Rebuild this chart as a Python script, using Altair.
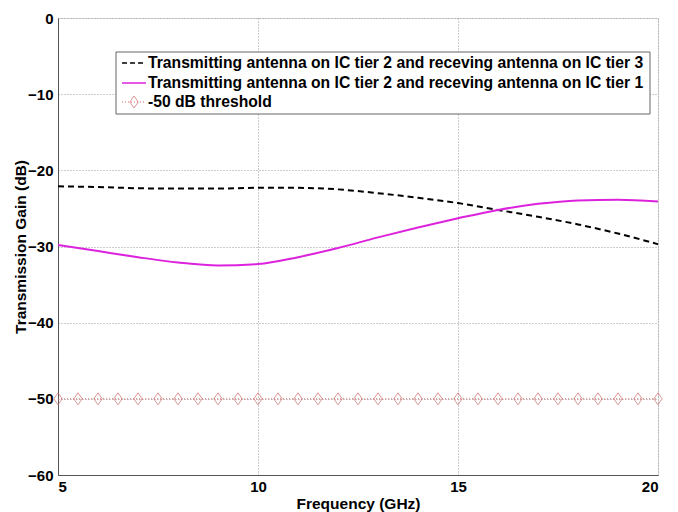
import altair as alt
import pandas as pd

freq = [5, 6, 7, 8, 9, 10, 11, 12, 13, 14, 15, 16, 17, 18, 19, 20]
tier3 = [-22.1, -22.2, -22.35, -22.4, -22.4, -22.3, -22.3, -22.5, -23.0, -23.6, -24.3, -25.2, -26.1, -27.1, -28.3, -29.7]
tier1 = [-29.8, -30.6, -31.4, -32.1, -32.5, -32.3, -31.4, -30.2, -28.8, -27.5, -26.3, -25.2, -24.4, -23.95, -23.85, -24.1]
thr_freq = [5 + 0.5 * i for i in range(31)]
thr_val = [-50] * 31

labels = [
    "Transmitting antenna on IC tier 2 and receving antenna on IC tier 3",
    "Transmitting antenna on IC tier 2 and receving antenna on IC tier 1",
    "-50 dB threshold",
]
x_ticks = [5, 10, 15, 20]
y_ticks = [-60, -50, -40, -30, -20, -10, 0]

FONT = "Liberation Sans"
W, H = 600, 457
THR_COLOR = "#d06a6a"
DIAMOND = "M0,-1L0.7,0L0,1L-0.7,0Z"

df3 = pd.DataFrame({"f": freq, "g": tier3})
df1 = pd.DataFrame({"f": freq, "g": tier1})
dft = pd.DataFrame({"f": thr_freq, "g": thr_val})

xs = alt.Scale(domain=[5, 20], nice=False)
ys = alt.Scale(domain=[-60, 0], nice=False)

xax = alt.Axis(values=x_ticks, title="Frequency (GHz)", grid=True, gridDash=[1, 2],
               gridColor="#999999", ticks=False, domainColor="#555555",
               labelFont=FONT, labelFontSize=15, labelFontWeight="bold", labelColor="black",
               labelPadding=4, titleFont=FONT, titleFontSize=15.5, titleFontWeight="bold",
               titleColor="black", titleX=W / 2, titleY=28, titleBaseline="middle")
yax = alt.Axis(values=y_ticks, title="Transmission Gain (dB)", grid=True, gridDash=[1, 2],
               gridColor="#999999", ticks=False, domainColor="#555555",
               labelFont=FONT, labelFontSize=15, labelFontWeight="bold", labelColor="black",
               labelPadding=5, titleFont=FONT, titleFontSize=15.5, titleFontWeight="bold",
               titleColor="black", titleX=-38, titleY=H / 2, titleAngle=270,
               titleBaseline="middle", titleAlign="center")

line3 = alt.Chart(df3).mark_line(color="black", strokeWidth=2, strokeDash=[6, 4],
                                 interpolate="monotone").encode(
    x=alt.X("f:Q", scale=xs, axis=xax), y=alt.Y("g:Q", scale=ys, axis=yax))
line1 = alt.Chart(df1).mark_line(color="#dd22dd", strokeWidth=2,
                                 interpolate="monotone").encode(
    x=alt.X("f:Q", scale=xs), y=alt.Y("g:Q", scale=ys))
thr_line = alt.Chart(dft).mark_line(color=THR_COLOR, strokeWidth=1, strokeDash=[1, 2]).encode(
    x=alt.X("f:Q", scale=xs), y=alt.Y("g:Q", scale=ys))
thr_pts = alt.Chart(dft).mark_point(shape=DIAMOND, size=144, color=THR_COLOR, filled=False,
                                    strokeWidth=1).encode(
    x=alt.X("f:Q", scale=xs), y=alt.Y("g:Q", scale=ys))

one = pd.DataFrame({"k": [0]})
leg_box = alt.Chart(one).mark_rect(fill="white", stroke="#666666", strokeWidth=1).encode(
    x=alt.value(58), x2=alt.value(592), y=alt.value(34), y2=alt.value(96))
leg_l3 = alt.Chart(one).mark_rule(color="black", strokeWidth=1.5, strokeDash=[5, 3]).encode(
    x=alt.value(64), x2=alt.value(88), y=alt.value(45))
leg_l1 = alt.Chart(one).mark_rule(color="#dd22dd", strokeWidth=1.5).encode(
    x=alt.value(64), x2=alt.value(88), y=alt.value(65))
leg_lt = alt.Chart(one).mark_rule(color=THR_COLOR, strokeWidth=1, strokeDash=[1, 2]).encode(
    x=alt.value(64), x2=alt.value(88), y=alt.value(84))
leg_pt = alt.Chart(one).mark_point(shape=DIAMOND, size=144, color=THR_COLOR, filled=False,
                                   strokeWidth=1).encode(x=alt.value(76), y=alt.value(84))
texts = []
for lab, yy in zip(labels, [45, 65, 84]):
    texts.append(alt.Chart(one).mark_text(font=FONT, fontSize=15.7, fontWeight="bold",
                                          align="left", baseline="middle", color="black").encode(
        x=alt.value(90), y=alt.value(yy), text=alt.value(lab)))

chart = alt.layer(thr_line, thr_pts, line3, line1, leg_box, leg_l3, leg_l1, leg_lt, leg_pt,
                  *texts).properties(
    width=W, height=H,
    autosize=alt.AutoSizeParams(type="none"),
    padding={"left": 50, "top": 10, "right": 12, "bottom": 37},
).configure_view(stroke=None).configure(background="white")

chart.save("out.html", embed_options={"renderer": "svg", "actions": False})
